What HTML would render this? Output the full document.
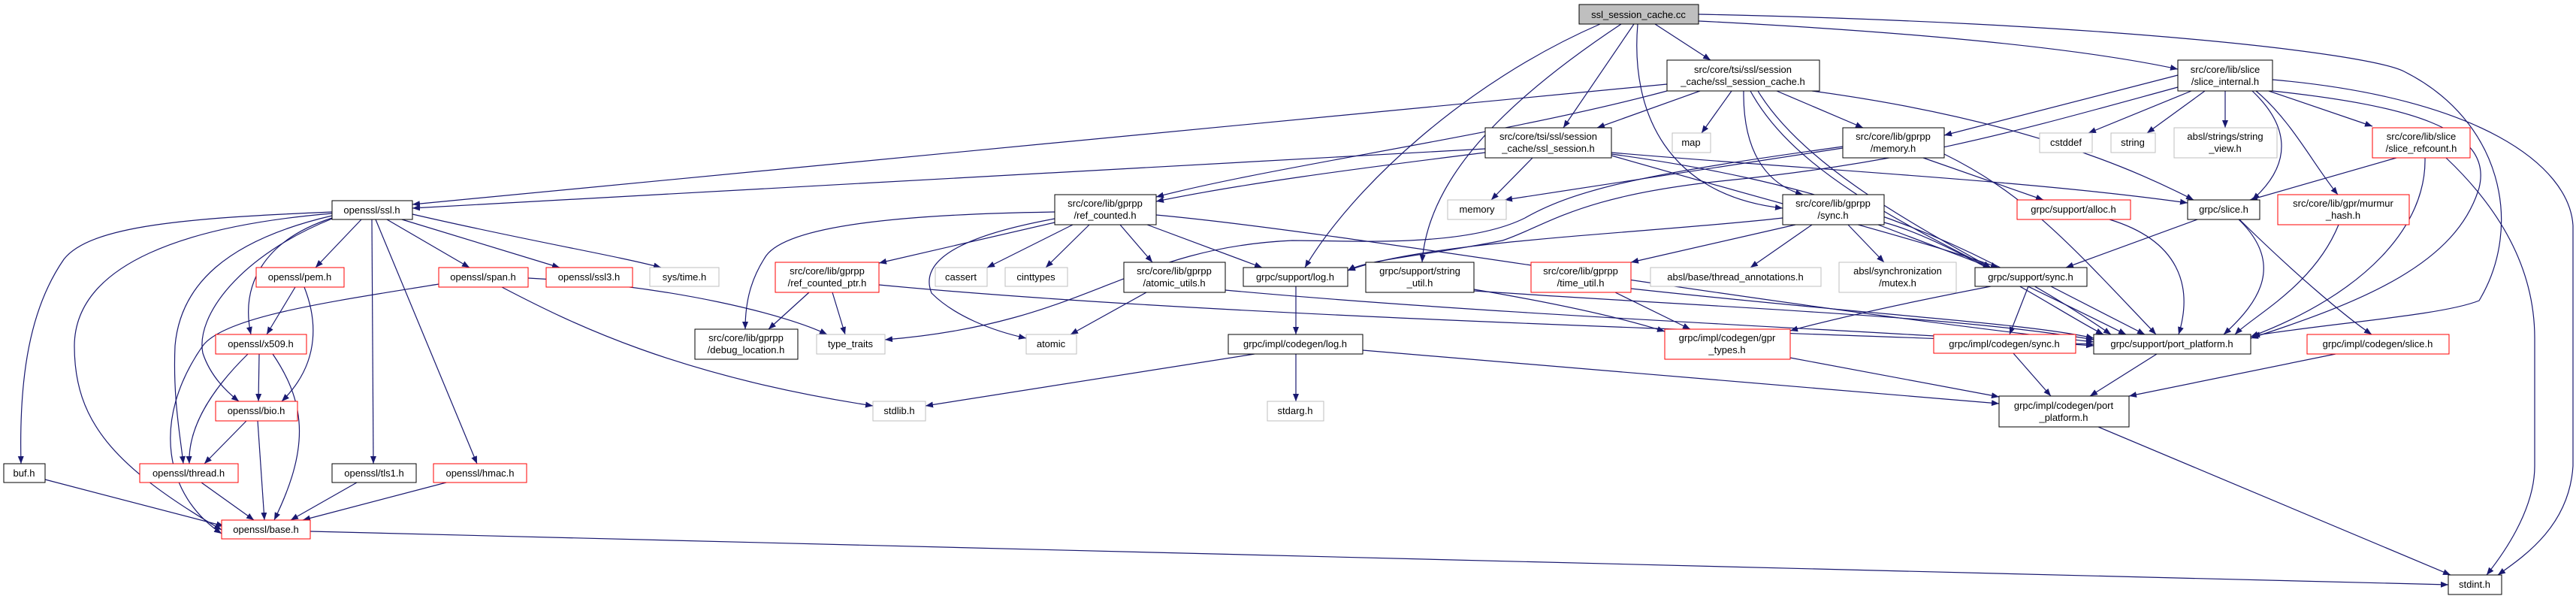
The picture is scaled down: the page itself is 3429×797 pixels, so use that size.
<!DOCTYPE html>
<html><head><meta charset="utf-8"><style>
html,body{margin:0;padding:0;background:#fff;}
svg{display:block;}
text{font-family:"Liberation Sans",sans-serif;font-size:13px;fill:#000;text-anchor:middle;}
.e{fill:none;stroke:#191970;stroke-width:1.2;marker-end:url(#a);}
.n{fill:#fff;stroke:#000;stroke-width:1;}
.r{fill:#fff;stroke:#ff0000;stroke-width:1;}
.g{fill:#fff;stroke:#bfbfbf;stroke-width:1;}
</style></head><body>
<svg width="3429" height="797" viewBox="0 0 3429 797" xmlns="http://www.w3.org/2000/svg">
<defs><marker id="a" markerUnits="userSpaceOnUse" markerWidth="11" markerHeight="8" refX="10" refY="4" orient="auto"><path d="M0,0 L10,4 L0,8 z" fill="#191970"/></marker></defs>
<g>
<path class="e" d="M2203,32 L2277,80"/>
<path class="e" d="M2175,32 L2081,170"/>
<path class="e" d="M2261,28 C2500,40 2750,60 2899,92"/>
<path class="e" d="M2130,32 C1950,110 1800,250 1737,356"/>
<path class="e" d="M2158,32 C1980,150 1900,250 1893,349"/>
<path class="e" d="M2180,32 C2170,150 2220,260 2373,277"/>
<path class="e" d="M2261,19 C2800,30 3150,70 3200,95 C3330,160 3360,300 3300,400 C3250,420 3100,430 2998,447"/>
<path class="e" d="M2219,112 L549,272"/>
<path class="e" d="M1977,198 L549,277"/>
<path class="e" d="M2219,121 C2000,180 1700,220 1539,262"/>
<path class="e" d="M1977,203 C1800,225 1650,245 1539,268"/>
<path class="e" d="M2263,121 L2126,170"/>
<path class="e" d="M2305,121 L2265,177"/>
<path class="e" d="M2365,121 L2480,170"/>
<path class="e" d="M2321,121 C2320,200 2350,245 2400,259"/>
<path class="e" d="M2412,121 C2700,160 2850,230 2920,266"/>
<path class="e" d="M2330,121 C2400,250 2600,330 2830,445"/>
<path class="e" d="M2340,121 C2400,220 2550,300 2650,356"/>
<path class="e" d="M2040,210 L1985,266"/>
<path class="e" d="M2145,203 C2400,225 2700,240 2912,270"/>
<path class="e" d="M2145,205 C2400,240 2600,300 2810,445"/>
<path class="e" d="M2145,207 C2400,280 2560,320 2660,356"/>
<path class="e" d="M2453,197 L2003,266"/>
<path class="e" d="M2453,195 C2200,230 2100,250 2030,290 C1950,330 1800,320 1720,320 C1500,330 1450,430 1178,452"/>
<path class="e" d="M2560,210 L2720,266"/>
<path class="e" d="M2588,205 C2700,260 2760,330 2870,445"/>
<path class="e" d="M2899,100 L2588,180"/>
<path class="e" d="M2899,116 C2700,170 2550,215 2300,240 C2100,260 2060,300 2000,320 C1900,340 1820,345 1794,360"/>
<path class="e" d="M2917,121 L2780,177"/>
<path class="e" d="M2935,121 L2858,177"/>
<path class="e" d="M2962,121 L2962,170"/>
<path class="e" d="M3020,121 L3158,168"/>
<path class="e" d="M2998,121 C3050,170 3050,220 2998,266"/>
<path class="e" d="M3003,121 C3050,160 3080,220 3112,259"/>
<path class="e" d="M3025,121 C3200,140 3320,170 3300,250 C3270,350 3150,400 2996,450"/>
<path class="e" d="M3025,106 C3300,130 3420,220 3425,300 L3425,620 C3420,700 3360,740 3325,765"/>
<path class="e" d="M3256,210 C3330,280 3374,360 3374,450 L3374,620 C3374,680 3330,740 3310,765"/>
<path class="e" d="M3190,210 L2995,266"/>
<path class="e" d="M3228,210 C3230,300 3150,390 2996,448"/>
<path class="e" d="M2925,292 L2750,356"/>
<path class="e" d="M2981,292 C3050,360 3120,420 3157,445"/>
<path class="e" d="M2980,292 C3040,350 3010,400 2960,445"/>
<path class="e" d="M3113,299 C3080,380 3000,420 2975,445"/>
<path class="e" d="M2808,292 C2900,320 2920,380 2900,445"/>
<path class="e" d="M2700,381 L2675,445"/>
<path class="e" d="M2730,381 L2855,445"/>
<path class="e" d="M2650,381 C2500,410 2420,430 2383,440"/>
<path class="e" d="M2680,470 L2730,527"/>
<path class="e" d="M2871,471 L2782,527"/>
<path class="e" d="M3109,471 L2834,527"/>
<path class="e" d="M2793,568 L3262,765"/>
<path class="e" d="M2383,476 L2661,528"/>
<path class="e" d="M1814,466 L2661,537"/>
<path class="e" d="M413,707 L3259,778"/>
<path class="e" d="M2373,290 C2200,310 1900,320 1794,360"/>
<path class="e" d="M2390,299 L2171,349"/>
<path class="e" d="M2412,299 L2330,356"/>
<path class="e" d="M2460,299 L2508,349"/>
<path class="e" d="M2500,299 L2650,356"/>
<path class="e" d="M2508,296 C2600,320 2750,420 2800,445"/>
<path class="e" d="M2150,389 L2250,438"/>
<path class="e" d="M2171,384 C2500,420 2700,430 2787,450"/>
<path class="e" d="M1962,385 C2050,400 2150,420 2216,441"/>
<path class="e" d="M1962,387 C2300,410 2600,420 2787,452"/>
<path class="e" d="M1725,381 L1725,445"/>
<path class="e" d="M1670,471 L1232,540"/>
<path class="e" d="M1725,471 L1725,534"/>
<path class="e" d="M1404,296 L1170,350"/>
<path class="e" d="M1428,299 L1314,356"/>
<path class="e" d="M1450,299 L1392,356"/>
<path class="e" d="M1491,299 L1534,349"/>
<path class="e" d="M1527,299 L1680,356"/>
<path class="e" d="M1404,282 C1200,285 1050,300 1020,340 C1000,370 992,400 992,438"/>
<path class="e" d="M1404,291 C1300,310 1220,340 1240,390 C1270,420 1320,440 1366,450"/>
<path class="e" d="M1539,286 C1800,310 2300,400 2787,455"/>
<path class="e" d="M1077,389 L1023,438"/>
<path class="e" d="M1108,389 L1125,445"/>
<path class="e" d="M1170,379 C1600,420 2300,440 2787,458"/>
<path class="e" d="M1526,389 L1425,445"/>
<path class="e" d="M1631,386 C2000,420 2500,440 2787,460"/>
<path class="e" d="M703,370 C900,380 1050,420 1101,445"/>
<path class="e" d="M668,382 C760,430 900,500 1162,540"/>
<path class="e" d="M584,378 C450,400 300,420 270,460 C200,560 220,660 295,710"/>
<path class="e" d="M442,282 C250,290 120,300 85,345 C40,410 25,500 28,617"/>
<path class="e" d="M442,284 C250,300 100,350 99,460 C99,560 150,620 295,705"/>
<path class="e" d="M442,287 C300,320 240,380 233,460 C230,530 240,580 244,617"/>
<path class="e" d="M442,290 C350,320 320,380 334,445"/>
<path class="e" d="M442,291 C320,340 260,420 270,470 C280,500 300,520 318,534"/>
<path class="e" d="M393,382 L355,445"/>
<path class="e" d="M405,382 C420,420 430,480 375,534"/>
<path class="e" d="M345,471 L344,534"/>
<path class="e" d="M330,471 C280,520 250,570 252,617"/>
<path class="e" d="M363,471 C410,540 410,600 365,692"/>
<path class="e" d="M328,560 L272,617"/>
<path class="e" d="M343,560 L352,692"/>
<path class="e" d="M268,642 L338,692"/>
<path class="e" d="M475,642 L387,692"/>
<path class="e" d="M594,642 L403,692"/>
<path class="e" d="M60,638 L298,700"/>
<path class="e" d="M495,292 L497,617"/>
<path class="e" d="M500,292 L635,617"/>
<path class="e" d="M481,292 L420,356"/>
<path class="e" d="M515,292 L625,356"/>
<path class="e" d="M535,292 L745,356"/>
<path class="e" d="M549,285 C700,320 820,340 880,356"/>
</g>
<g>
<rect x="2102" y="6" width="159" height="26" fill="#bfbfbf" stroke="#000"/><text x="2181" y="24">ssl_session_cache.cc</text>
<rect class="n" x="2219" y="80" width="203" height="41"/><text x="2320" y="97">src/core/tsi/ssl/session</text><text x="2320" y="113">_cache/ssl_session_cache.h</text>
<rect class="n" x="1977" y="170" width="168" height="40"/><text x="2061" y="186">src/core/tsi/ssl/session</text><text x="2061" y="202">_cache/ssl_session.h</text>
<rect class="n" x="2899" y="80" width="126" height="41"/><text x="2962" y="97">src/core/lib/slice</text><text x="2962" y="113">/slice_internal.h</text>
<rect class="n" x="442" y="267" width="107" height="25"/><text x="495" y="284">openssl/ssl.h</text>
<rect class="r" x="341" y="356" width="117" height="26"/><text x="399" y="373">openssl/pem.h</text>
<rect class="r" x="584" y="356" width="119" height="26"/><text x="643" y="373">openssl/span.h</text>
<rect class="r" x="727" y="356" width="115" height="26"/><text x="784" y="373">openssl/ssl3.h</text>
<rect class="r" x="287" y="445" width="121" height="26"/><text x="347" y="462">openssl/x509.h</text>
<rect class="r" x="287" y="534" width="109" height="26"/><text x="341" y="551">openssl/bio.h</text>
<rect class="n" x="5" y="617" width="55" height="25"/><text x="32" y="634">buf.h</text>
<rect class="r" x="186" y="617" width="131" height="25"/><text x="251" y="634">openssl/thread.h</text>
<rect class="n" x="442" y="617" width="112" height="25"/><text x="498" y="634">openssl/tls1.h</text>
<rect class="r" x="577" y="617" width="124" height="25"/><text x="639" y="634">openssl/hmac.h</text>
<rect class="r" x="295" y="692" width="118" height="25"/><text x="354" y="709">openssl/base.h</text>
<rect class="n" x="1404" y="259" width="135" height="40"/><text x="1471" y="275">src/core/lib/gprpp</text><text x="1471" y="291">/ref_counted.h</text>
<rect class="g" x="865" y="356" width="92" height="25"/><text x="911" y="373">sys/time.h</text>
<rect class="r" x="1032" y="349" width="138" height="40"/><text x="1101" y="365">src/core/lib/gprpp</text><text x="1101" y="381">/ref_counted_ptr.h</text>
<rect class="g" x="1245" y="356" width="69" height="25"/><text x="1279" y="373">cassert</text>
<rect class="g" x="1338" y="356" width="83" height="25"/><text x="1379" y="373">cinttypes</text>
<rect class="n" x="1496" y="349" width="135" height="40"/><text x="1563" y="365">src/core/lib/gprpp</text><text x="1563" y="381">/atomic_utils.h</text>
<rect class="n" x="1655" y="356" width="139" height="25"/><text x="1724" y="373">grpc/support/log.h</text>
<rect class="n" x="925" y="438" width="137" height="40"/><text x="993" y="454">src/core/lib/gprpp</text><text x="993" y="470">/debug_location.h</text>
<rect class="g" x="1087" y="445" width="91" height="26"/><text x="1132" y="462">type_traits</text>
<rect class="g" x="1366" y="445" width="67" height="26"/><text x="1399" y="462">atomic</text>
<rect class="n" x="1635" y="445" width="179" height="26"/><text x="1724" y="462">grpc/impl/codegen/log.h</text>
<rect class="g" x="1162" y="534" width="70" height="26"/><text x="1197" y="551">stdlib.h</text>
<rect class="g" x="1687" y="534" width="75" height="26"/><text x="1724" y="551">stdarg.h</text>
<rect class="g" x="2226" y="177" width="51" height="26"/><text x="2251" y="194">map</text>
<rect class="n" x="2453" y="170" width="135" height="40"/><text x="2520" y="186">src/core/lib/gprpp</text><text x="2520" y="202">/memory.h</text>
<rect class="g" x="1927" y="266" width="78" height="26"/><text x="1966" y="283">memory</text>
<rect class="n" x="2373" y="259" width="135" height="40"/><text x="2440" y="275">src/core/lib/gprpp</text><text x="2440" y="291">/sync.h</text>
<rect class="n" x="1818" y="349" width="144" height="40"/><text x="1890" y="365">grpc/support/string</text><text x="1890" y="381">_util.h</text>
<rect class="r" x="2038" y="349" width="133" height="40"/><text x="2104" y="365">src/core/lib/gprpp</text><text x="2104" y="381">/time_util.h</text>
<rect class="g" x="2197" y="356" width="227" height="25"/><text x="2310" y="373">absl/base/thread_annotations.h</text>
<rect class="g" x="2448" y="349" width="156" height="40"/><text x="2526" y="365">absl/synchronization</text><text x="2526" y="381">/mutex.h</text>
<rect class="r" x="2216" y="438" width="167" height="40"/><text x="2299" y="454">grpc/impl/codegen/gpr</text><text x="2299" y="470">_types.h</text>
<rect class="r" x="2574" y="445" width="189" height="25"/><text x="2668" y="462">grpc/impl/codegen/sync.h</text>
<rect class="n" x="2787" y="445" width="209" height="26"/><text x="2891" y="462">grpc/support/port_platform.h</text>
<rect class="r" x="3071" y="445" width="189" height="26"/><text x="3165" y="462">grpc/impl/codegen/slice.h</text>
<rect class="n" x="2661" y="527" width="173" height="41"/><text x="2747" y="544">grpc/impl/codegen/port</text><text x="2747" y="560">_platform.h</text>
<rect class="n" x="3259" y="765" width="71" height="26"/><text x="3294" y="782">stdint.h</text>
<rect class="g" x="2715" y="177" width="70" height="26"/><text x="2750" y="194">cstddef</text>
<rect class="g" x="2810" y="177" width="59" height="26"/><text x="2839" y="194">string</text>
<rect class="g" x="2894" y="170" width="137" height="40"/><text x="2962" y="186">absl/strings/string</text><text x="2962" y="202">_view.h</text>
<rect class="r" x="3158" y="170" width="130" height="40"/><text x="3223" y="186">src/core/lib/slice</text><text x="3223" y="202">/slice_refcount.h</text>
<rect class="r" x="2685" y="266" width="151" height="26"/><text x="2760" y="283">grpc/support/alloc.h</text>
<rect class="n" x="2912" y="266" width="96" height="26"/><text x="2960" y="283">grpc/slice.h</text>
<rect class="r" x="3032" y="259" width="175" height="40"/><text x="3119" y="275">src/core/lib/gpr/murmur</text><text x="3119" y="291">_hash.h</text>
<rect class="n" x="2629" y="356" width="149" height="25"/><text x="2703" y="373">grpc/support/sync.h</text>
</g>
</svg>
</body></html>
